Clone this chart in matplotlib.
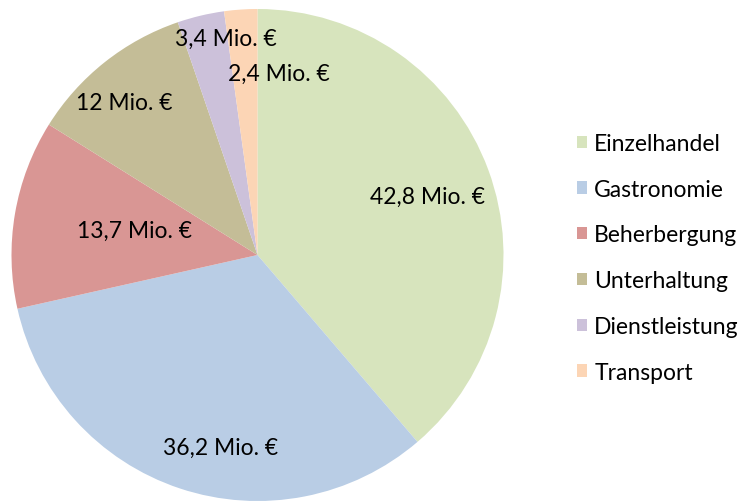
import matplotlib.pyplot as plt
from matplotlib.patches import Patch

# =========================
# DATA
# =========================
categories = ["Einzelhandel", "Gastronomie", "Beherbergung", "Unterhaltung",
              "Dienstleistung", "Transport"]
values = [42.8, 36.2, 13.7, 12, 3.4, 2.4]
value_labels = ["42,8 Mio. €", "36,2 Mio. €", "13,7 Mio. €", "12 Mio. €",
                "3,4 Mio. €", "2,4 Mio. €"]
colors = ["#D7E4BD", "#B9CDE5", "#D99694", "#C4BD97", "#CCC1DA", "#FCD5B5"]

# label positions (in pie radius units)
label_pos = [(0.69, 0.24), (-0.15, -0.78), (-0.50, 0.10), (-0.54, 0.62),
             (-0.13, 0.88), (0.085, 0.74)]

plt.rcParams['font.family'] = ['Lato', 'DejaVu Sans']
fs = 16.5

fig = plt.figure(figsize=(7.4, 5.02), dpi=100)
ax = fig.add_axes([11.5/740, 0, 492/740, 492/502])

wedges, _ = ax.pie(values, colors=colors, startangle=90, counterclock=False,
                   radius=1, wedgeprops=dict(edgecolor='none', linewidth=0))
ax.set_xlim(-1, 1)
ax.set_ylim(-1, 1)
ax.set_aspect('equal')
ax.axis('off')

for (x, y), txt in zip(label_pos, value_labels):
    ax.text(x, y, txt, ha='center', va='center', fontsize=fs, color='black')

handles = [Patch(facecolor=c, edgecolor='none') for c in colors]
fig.legend(handles, categories, loc='upper left', bbox_to_anchor=(577/740, 1 - 134/502),
           frameon=False, fontsize=fs, handlelength=0.45, handleheight=0.45,
           handletextpad=0.3, labelspacing=1.08, borderaxespad=0, borderpad=0)

fig.savefig("out.png", dpi=100)
